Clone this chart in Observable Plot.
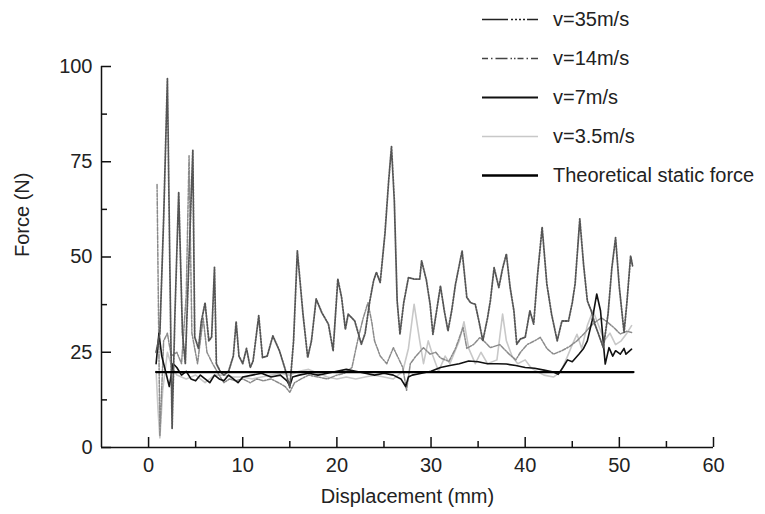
<!DOCTYPE html>
<html>
<head>
<meta charset="utf-8">
<script src="https://cdn.jsdelivr.net/npm/d3@7"></script>
<script src="https://cdn.jsdelivr.net/npm/@observablehq/plot@0.6"></script>
<style>
  html, body { margin: 0; padding: 0; background: #fff; }
  #wrap { position: relative; width: 765px; height: 514px; font-family: "Liberation Sans", Arial, sans-serif; color: #222; }
  #legend { position: absolute; left: 482px; top: 0; }
  .row { position: absolute; left: 0; height: 24px; white-space: nowrap; font-size: 20px; line-height: 24px; }
  .row svg { position: absolute; left: 0; top: 0; }
  .row span { position: absolute; left: 71px; top: 0; }
</style>
</head>
<body>
<div id="wrap"><div id="legend"></div></div>
<script>
// ---- data (displacement mm, force N) ----
const seriesNames = ["v=35m/s", "v=14m/s", "v=7m/s", "v=3.5m/s", "Theoretical static force"];
const xTitle = "Displacement (mm)";
const yTitle = "Force (N)";

const v35 = [
  [0.8,25],[1.2,30],[1.6,60],[2.0,96.8],[2.3,40],[2.5,5],[2.8,35],[3.2,67],[3.6,30],[3.9,22],
  [4.3,50],[4.7,78],[4.9,29],[5.3,26],[5.6,33],[6.0,38],[6.4,28],[6.7,29],[7.0,47.3],[7.2,22],
  [7.6,20],[8.0,19],[8.5,20],[9.0,24],[9.3,33],[9.6,24],[10.0,22],[10.4,26],[10.8,21],[11.1,22.7],
  [11.7,34.6],[12.1,23.6],[12.6,24],[13.2,29.3],[13.9,25.4],[14.5,20.6],[15.0,15.7],[15.4,28],[15.8,51.6],[16.4,35],
  [16.9,23.6],[17.3,28],[17.8,39],[18.4,35.4],[19.1,32.4],[19.6,25.4],[20.1,44.2],[20.5,39.4],[20.9,31],[21.2,35],
  [21.9,33.2],[22.6,27.1],[23.0,30],[23.5,38.5],[23.9,43.8],[24.2,46],[24.6,43.3],[25.1,56],[25.5,70],[25.8,79],
  [26.1,64.8],[26.4,38.5],[26.7,29.8],[27.1,38],[27.6,44.6],[28.2,44.2],[28.8,44.2],[29.0,49],[29.5,44],[29.9,37.6],
  [30.2,29.7],[30.6,36],[31.0,42.4],[31.4,36],[31.8,30.6],[32.2,36],[32.6,42.9],[33.3,51.6],[33.8,39.4],[34.2,38],
  [34.7,37.6],[35.1,33],[35.5,28],[36.0,34],[36.3,38.5],[36.7,47.2],[37.2,42],[37.6,47],[38.0,50.8],[38.4,42],
  [38.8,35.9],[39.1,27.1],[39.5,28.5],[40.0,28.9],[40.5,35.9],[40.9,32.4],[41.3,45],[41.8,57.8],[42.3,42.9],[42.8,35],
  [43.4,28],[43.9,33.2],[44.6,33.2],[45.0,38],[45.3,42.9],[45.8,60],[46.2,48],[46.6,38.5],[47.0,36],[47.4,32.4],
  [47.9,29],[48.3,26.2],[48.8,35],[49.2,47],[49.6,55.1],[50.0,42],[50.5,30.2],[50.8,38],[51.2,50.3],[51.4,47.7]
];

const v14 = [
  [0.9,69],[1.2,3],[1.6,28],[2.0,30],[2.4,24],[3.0,25],[3.5,22],[4.0,40],[4.3,76.6],[4.6,30],
  [5.2,22],[5.8,34],[6.2,25],[6.8,22],[7.5,19],[8.0,17],[8.6,18],[9.2,17.5],[10.0,18],[10.8,17],
  [11.5,18],[12.2,17.5],[13.0,18],[13.8,17],[14.5,16],[15.0,14.5],[15.5,17],[16.2,18],[17.0,19],[18.0,18.5],
  [19.0,18],[20.0,19],[20.8,19.5],[21.6,21],[22.2,28],[22.8,34],[23.3,38],[23.7,33],[24.0,28],[24.6,24],
  [25.3,22],[26.0,26.2],[26.5,23.6],[27.0,21],[27.4,15],[27.8,22],[28.4,24],[29.2,26.2],[29.9,24.5],[30.5,25],
  [31.0,23.5],[31.9,22.6],[32.6,26],[33.4,31.5],[33.8,26],[34.5,27],[35.2,28.9],[35.8,27.5],[36.3,26.2],[37.3,27],
  [38.3,24.5],[39.0,23],[39.5,25],[40.2,27],[41.0,28],[41.6,28.9],[42.3,26],[43.0,24.5],[43.9,25.4],[44.7,26.5],
  [45.5,28],[46.3,30],[47.0,32],[47.6,33.2],[48.1,34],[48.7,33],[49.4,31.5],[50.1,29.8],[50.8,30.5],[51.3,30.2]
];

const v7 = [
  [0.8,22],[1.1,30],[1.4,24],[1.8,20],[2.2,16],[2.6,22],[3.0,21],[3.5,19],[4.0,20],[4.5,18],
  [5.0,17.5],[5.5,19],[6.0,18],[6.5,17],[7.0,19],[7.5,18],[8.0,17.5],[8.5,19],[9.0,18],[9.5,17],
  [10.0,18.5],[11.0,19],[12.0,19.5],[13.0,18.5],[14.0,19],[14.7,17.5],[15.0,16.2],[15.3,18.5],[16.0,19],[17.0,19.5],
  [18.0,19],[19.0,19.5],[20.0,20],[21.0,20.5],[22.0,20],[23.0,19.5],[24.0,19],[25.0,19.5],[26.0,19],[26.8,18],
  [27.3,16],[27.6,18.5],[28.0,19],[29.0,19.5],[30.0,20],[31.0,21],[32.0,21.5],[33.0,22],[34.0,22.7],[35.0,22.5],
  [36.0,22],[37.0,22],[38.0,21.9],[39.0,21.5],[40.0,21],[41.0,20.8],[42.0,20.3],[43.0,19.8],[43.5,19.2],[44.0,21],
  [44.5,23],[45.0,22.5],[45.7,24.5],[46.2,26],[46.6,28],[47.1,33.2],[47.6,40.3],[48.0,35.9],[48.5,21.9],[48.9,26.2],
  [49.3,24],[49.6,25.4],[50.1,24.5],[50.5,26],[50.7,24.5],[51.3,25.8]
];

const v3_5 = [
  [0.8,20],[1.0,10],[1.2,2.5],[1.5,15],[2.0,25],[2.5,21],[3.0,19],[4.0,18],[5.0,19],[6.0,17],
  [7.0,19],[8.0,19],[9.0,18.5],[10.0,18.5],[11.0,18],[12.0,18.5],[13.0,19],[14.0,19.5],[15.0,19],[16.0,20],
  [17.0,20.5],[18.0,19.5],[19.0,18.5],[20.0,18],[21.0,18.5],[22.0,18],[23.0,18.5],[24.0,19],[25.0,18.5],[26.0,18],
  [27.0,20],[27.6,26],[28.2,37.6],[28.8,28],[29.2,22],[29.7,28],[30.2,24],[30.8,20],[31.5,24],[32.0,22],
  [33.0,28],[33.5,33],[34.0,26],[34.7,22],[35.3,25],[36.0,22],[37.0,23],[37.6,35],[38.0,28],[38.6,24],
  [39.2,22],[40.0,23],[40.6,21],[41.2,20],[42.0,19],[43.0,18.5],[43.8,20],[44.5,24],[45.0,27],[45.5,29.7],
  [46.0,26],[46.6,32],[47.2,35.9],[47.8,32],[48.4,28],[49.0,30],[49.6,27],[50.2,28],[50.8,30],[51.3,32]
];

const staticForce = [[0.8,19.8],[51.5,19.8]];

// ---- axes ----
const xDomain = [-5, 60];
const yDomain = [0, 100];
const xMajor = [0, 10, 20, 30, 40, 50, 60];
const xMinor = [5, 15, 25, 35, 45, 55];
const yMajor = [0, 25, 50, 75, 100];
const yMinor = [12.5, 37.5, 62.5, 87.5];

// ---- styles ----
const styles = [
  {stroke: "#555", strokeWidth: 1.8, dash: "1.6,1.4", legendStroke: "#222", legendWidth: 1.4, legendDash: "26,3,2,2,2,2,2,2,2,2"},
  {stroke: "#8a8a8a", strokeWidth: 1.5, dash: "4,1.5,1.5,1.5", legendStroke: "#444", legendWidth: 1.3, legendDash: "6,3,1.5,3,12,3,1.5,2,1.5,2"},
  {stroke: "#111", strokeWidth: 1.6, dash: null, legendStroke: "#111", legendWidth: 1.8, legendDash: null},
  {stroke: "#c8c8c8", strokeWidth: 1.6, dash: null, legendStroke: "#c8c8c8", legendWidth: 1.6, legendDash: null},
  {stroke: "#000", strokeWidth: 2.3, dash: null, legendStroke: "#000", legendWidth: 2.3, legendDash: null}
];
const allSeries = [v35, v14, v7, v3_5, staticForce];

const W = 765, H = 514, mL = 101, mR = 52, mT = 66, mB = 67;
const innerW = W - mL - mR, innerH = H - mT - mB;

const lineMarks = allSeries.map((s, i) => Plot.line(s, {
  x: d => d[0], y: d => d[1],
  stroke: styles[i].stroke, strokeWidth: styles[i].strokeWidth,
  strokeDasharray: styles[i].dash
}));
const order = [3, 1, 2, 0, 4];

const chart = Plot.plot({
  width: W, height: H,
  marginLeft: mL, marginRight: mR, marginTop: mT, marginBottom: mB,
  style: {fontFamily: "'Liberation Sans', Arial, sans-serif", fontSize: "20px", color: "#222", background: "#fff"},
  x: {domain: xDomain},
  y: {domain: yDomain},
  marks: [
    ...order.map(i => lineMarks[i]),
    Plot.ruleY([yDomain[0]], {stroke: "#111", strokeWidth: 1.5}),
    Plot.ruleX([xDomain[0]], {stroke: "#111", strokeWidth: 1.5}),
    Plot.ruleX(xMajor, {stroke: "#111", strokeWidth: 1.5, insetTop: innerH - 10}),
    Plot.ruleX(xMinor, {stroke: "#111", strokeWidth: 1.5, insetTop: innerH - 6}),
    Plot.ruleY(yMajor, {stroke: "#111", strokeWidth: 1.5, insetRight: innerW - 10}),
    Plot.ruleY(yMinor, {stroke: "#111", strokeWidth: 1.5, insetRight: innerW - 6}),
    Plot.axisX(xMajor, {tickSize: 0, tickPadding: 10, label: null, fill: "#222"}),
    Plot.axisY(yMajor, {tickSize: 0, tickPadding: 9, label: null, fill: "#222"}),
    Plot.text([xTitle], {frameAnchor: "bottom", dy: 55, fill: "#222", fontSize: 20}),
    Plot.text([yTitle], {frameAnchor: "left", dx: -79, rotate: -90, fill: "#222", fontSize: 20})
  ]
});
document.getElementById("wrap").prepend(chart);

// ---- legend ----
const legend = document.getElementById("legend");
const rowTops = [7, 46, 85, 124, 163];
seriesNames.forEach((name, i) => {
  const row = document.createElement("div");
  row.className = "row";
  row.style.top = rowTops[i] + "px";
  const s = styles[i];
  row.innerHTML = `<svg width="60" height="24"><line x1="0" x2="56" y1="12.5" y2="12.5" stroke="${s.legendStroke}" stroke-width="${s.legendWidth}" ${s.legendDash ? `stroke-dasharray="${s.legendDash}"` : ""}/></svg><span>${name}</span>`;
  legend.appendChild(row);
});
</script>
</body>
</html>
